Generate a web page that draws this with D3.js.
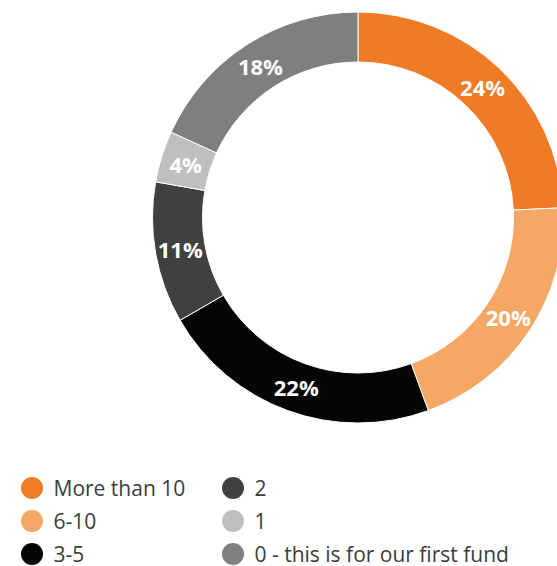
<!DOCTYPE html>
<html>
<head>
<meta charset="utf-8">
<script src="https://cdn.jsdelivr.net/npm/d3@7"></script>
<style>
  html, body { margin: 0; padding: 0; background: #fff; }
  svg { display: block; font-family: "Open Sans", sans-serif; }
</style>
</head>
<body>
<svg id="chart" width="557" height="566"></svg>
<script>
// Number of funds raised previously (share of respondents)
const categories = ["More than 10", "6-10", "3-5", "2", "1", "0 - this is for our first fund"];
const shares = [24, 20, 22, 11, 4, 18];
const colors = ["#F07B26", "#F5A765", "#050503", "#404040", "#BFBFBF", "#7F7F7F"];

const data = categories.map((c, i) => ({ category: c, value: shares[i], color: colors[i] }));

const svg = d3.select("#chart");
const cx = 358, cy = 217.5;
const outerR = 205.5, innerR = 155.5;

const pie = d3.pie().value(d => d.value).sort(null);
const arc = d3.arc().innerRadius(innerR).outerRadius(outerR);
const labelArc = d3.arc().innerRadius((innerR + outerR) / 2).outerRadius((innerR + outerR) / 2);

const g = svg.append("g").attr("transform", `translate(${cx},${cy})`);
const arcs = pie(data);

g.selectAll("path.slice")
  .data(arcs)
  .join("path")
  .attr("class", "slice")
  .attr("d", arc)
  .attr("fill", d => d.data.color)
  .attr("stroke", "#fff")
  .attr("stroke-width", 1);

g.selectAll("text.value")
  .data(arcs)
  .join("text")
  .attr("class", "value")
  .attr("transform", d => `translate(${labelArc.centroid(d)})`)
  .attr("text-anchor", "middle")
  .attr("dominant-baseline", "central")
  .attr("fill", "#fff")
  .attr("font-weight", 700)
  .attr("font-size", 22)
  .text(d => d.data.value + "%");

// Legend: two columns of three entries
const legend = svg.append("g");
const colX = [32, 233];
const rowY = [488, 521, 554];
const items = legend.selectAll("g.item")
  .data(data)
  .join("g")
  .attr("class", "item")
  .attr("transform", (d, i) => `translate(${colX[Math.floor(i / 3)]},${rowY[i % 3]})`);

items.append("circle")
  .attr("r", 11)
  .attr("fill", d => d.color);

items.append("text")
  .attr("x", 21.5)
  .attr("dominant-baseline", "central")
  .attr("font-size", 21)
  .attr("fill", "#3C3C3C")
  .text(d => d.category);
</script>
</body>
</html>
